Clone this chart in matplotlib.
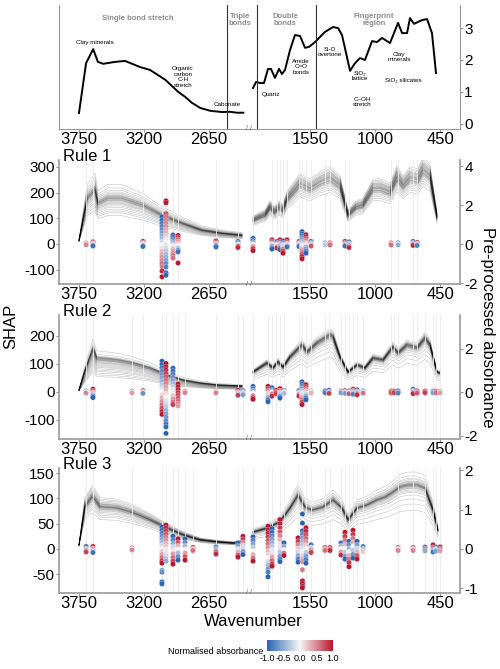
import numpy as np
import matplotlib
matplotlib.use("Agg")
import matplotlib.pyplot as plt
import matplotlib.transforms as mtransforms
from matplotlib.colors import LinearSegmentedColormap, Normalize
from matplotlib.cm import ScalarMappable

plt.rcParams['font.family'] = ['Liberation Sans', 'DejaVu Sans']
plt.rcParams['axes.unicode_minus'] = False

# ---------------- data ----------------
tick_wn = [3750, 3200, 2650, 1550, 1000, 450]
region_edges = [2500, 2000, 1500]

# mean spectrum (top panel)
top_wn_l = [3750, 3690, 3630, 3590, 3545, 3445, 3360, 3235, 3150, 3020, 2910, 2850,
            2795, 2725, 2640, 2540, 2475, 2415, 2360]
top_ab_l = [0.34, 1.9, 2.34, 1.94, 1.88, 1.94, 1.97, 1.78, 1.69, 1.38, 1.0, 0.84,
            0.66, 0.5, 0.41, 0.37, 0.38, 0.35, 0.35]
top_wn_r = [2032, 2007, 1973, 1939, 1905, 1880, 1846, 1812, 1787, 1761, 1719, 1677,
            1634, 1592, 1558, 1507, 1423, 1355, 1313, 1279, 1245, 1211, 1169, 1127,
            1085, 1025, 983, 941, 873, 805, 771, 729, 704, 670, 602, 560, 518, 484]
top_ab_r = [1.12, 1.31, 1.28, 1.28, 1.72, 1.72, 1.44, 1.72, 1.56, 1.69, 2.31, 2.78,
            2.75, 2.38, 2.41, 2.56, 2.88, 3.03, 3.0, 2.78, 2.22, 1.66, 1.9, 2.06,
            2.0, 2.59, 2.56, 2.69, 2.53, 3.16, 2.84, 2.84, 3.31, 3.13, 3.25, 3.28, 2.84, 1.59]

# Rule 1 spectra
r1_wn_l = [3750, 3680, 3615, 3590, 3505, 3390, 3210, 3050, 2880, 2710, 2540, 2370]
r1_ab_l = [0.2, 2.36, 2.8, 2.1, 2.36, 2.36, 2.0, 1.49, 1.08, 0.72, 0.56, 0.46]
r1_wn_r = [2032, 1973, 1930, 1888, 1850, 1810, 1780, 1745, 1634, 1550, 1460, 1380,
           1296, 1228, 1160, 1104, 1017, 958, 873, 814, 763, 704, 640, 594, 535, 475]
r1_ab_r = [1.23, 1.4, 1.5, 1.9, 1.65, 1.9, 1.75, 2.3, 3.1, 2.85, 3.2, 3.4,
           3.0, 1.5, 1.9, 2.0, 2.85, 2.87, 2.67, 3.43, 3.0, 3.4, 3.3, 3.8, 3.5, 1.4]
r1_fac_l = [0.62, 1.3, 0.72, 1.0, 0.8, 1.22, 0.86, 0.95, 0.9, 1.17, 0.94, 0.68, 0.96,
            1.05, 0.98, 0.99, 1.0, 0.76, 1.01, 1.02, 0.83, 1.04, 0.97, 1.06, 1.08,
            1.1, 0.88, 1.13, 0.92, 1.03]
r1_fac_r = [0.96, 0.82, 1.05, 0.88, 1.12, 0.92, 1.0, 0.94, 1.17, 0.78, 0.97, 1.02,
            0.98, 1.08, 0.85, 1.0, 1.01, 0.93, 1.14, 1.02, 1.03, 0.9, 1.04, 0.95,
            1.06, 1.07, 0.99, 1.09, 1.1, 0.96]

# Rule 2 spectra
r2_wn_l = [3750, 3700, 3630, 3600, 3430, 3293, 3150, 3005, 2870, 2725, 2580, 2370]
r2_ab_l = [0.1, 1.0, 2.05, 1.58, 1.49, 1.35, 1.12, 0.79, 0.56, 0.42, 0.33, 0.28]
r2_wn_r = [2032, 1914, 1863, 1820, 1778, 1719, 1617, 1575, 1490, 1380, 1355, 1296,
           1228, 1152, 1085, 1017, 932, 848, 805, 729, 644, 577, 535, 475, 450]
r2_ab_r = [0.93, 1.35, 1.12, 1.4, 1.16, 1.63, 2.19, 1.86, 2.28, 2.65, 2.56, 1.63,
           0.93, 1.26, 1.12, 1.58, 1.49, 2.09, 1.81, 2.19, 2.05, 2.51, 2.19, 0.93, 0.88]
r2_fac_l = [0.45, 1.2, 0.55, 0.98, 0.64, 1.1, 0.72, 0.93, 0.78, 1.05, 0.84, 0.5,
            0.88, 1.0, 0.92, 0.6, 0.94, 0.95, 0.68, 0.97, 0.75, 0.99, 1.0, 0.81,
            1.01, 1.02, 0.86, 1.03, 0.9, 0.96]
r2_fac_r = [1.0, 0.6, 0.97, 0.78, 1.02, 0.88, 0.92, 1.07, 0.94, 0.95, 0.7, 0.96,
            0.97, 1.1, 0.98, 0.84, 0.99, 0.99, 1.0, 0.9, 1.0, 1.01, 1.01, 0.93,
            1.02, 1.03, 1.04, 1.05, 0.96, 0.98]

# Rule 3 spectra
r3_wn_l = [3750, 3700, 3640, 3615, 3572, 3430, 3293, 3150, 3005, 2870, 2725, 2580,
           2445, 2370]
r3_ab_l = [0.1, 1.07, 1.32, 1.25, 1.07, 1.04, 0.92, 0.74, 0.53, 0.36, 0.23, 0.18,
           0.15, 0.18]
r3_wn_r = [2032, 1914, 1804, 1719, 1651, 1592, 1533, 1440, 1355, 1279, 1228, 1152,
           1068, 983, 915, 856, 788, 720, 644, 577, 509, 467]
r3_ab_r = [0.43, 0.53, 0.69, 1.04, 1.37, 1.07, 0.99, 1.07, 1.25, 1.04, 0.74, 1.04,
           1.12, 1.25, 1.32, 1.43, 1.58, 1.63, 1.63, 1.55, 0.99, 0.48]
r3_fac_l = [0.7, 1.22, 0.8, 1.0, 0.87, 1.15, 0.92, 0.98, 0.95, 1.1, 0.97, 0.76,
            0.99, 1.04, 1.0, 1.0, 1.01, 0.84, 1.02, 1.02, 0.9, 1.03, 0.96, 1.05,
            1.06, 1.07, 0.94, 1.08, 1.12, 1.18]
r3_fac_r = [0.98, 0.6, 1.01, 0.84, 1.03, 0.9, 0.94, 1.1, 0.96, 0.97, 0.7, 0.99,
            1.0, 1.14, 1.0, 0.88, 1.01, 1.02, 0.78, 1.02, 1.04, 0.92, 1.05, 0.95,
            1.06, 1.08, 0.99, 1.2, 1.0, 0.98]

# SHAP columns: wavenumber, SHAP values, normalised absorbance
r1_col_wn = [3690, 3632, 3209, 3048, 3014, 2955, 2912, 2591, 2405,
             2032, 1871, 1829, 1804, 1778, 1744, 1643, 1617, 1584, 1541,
             1423, 1381, 1254, 1220, 864, 805, 678, 644]
r1_col_shap = [
    [3, 0, -3], [8, 4, 0, -4, -8], [10, 5, 0, -5, -10],
    [105, 92, 80, 68, 56, 44, 32, 20, 8, -4, -16, -28, -40, -52, -64, -76, -88, -105, -128],
    [168, 160, 118, 105, 92, 80, 68, 56, 44, 32, 20, 8, -4, -16, -28, -40, -52, -64, -76, -90, -112, -122],
    [35, 27, 19, 11, 3, -5, -13, -21, -29, -37, -45, -55],
    [33, 25, 17, 9, 1, -7, -15, -23, -31, -74],
    [12, 6, 0, -6, -12], [10, 4, -2, -8, -14],
    [22, 14, 6, -2, -10, -18, -26], [16, 8, 0, -8, -16, -20], [10, 3, -4, -11, -16],
    [16, 8, 0, -8, -16, -22], [12, 4, -4, -12, -20, -28, -36], [16, 8, 0, -8, -12],
    [10, 3, -4, -10],
    [48, 40, 32, 24, 16, 8, 0, -8, -16, -24, -32, -40, -48, -58],
    [36, 28, 20, 12, 4, -4, -12, -20, -28, -36],
    [10, 4, -2, -8], [4, 0, -4], [4, 0, -4], [10, 4, -2, -8], [8, 2, -6, -14],
    [4, 0, -4], [4, 0, -4], [10, 4, -2, -6], [6, 2, -2, -6]]
r1_col_abs = [
    [0.7, 0.1, 0.5], [0.9, 0.5, 0.1, -0.5, -0.9], [0.9, 0.5, 0.0, -0.5, -0.9],
    [-1, -0.95, -0.85, -0.8, -0.7, -0.6, -0.5, -0.4, -0.2, 0.0, 0.1, 0.25, 0.35, 0.45, 0.5, 0.6, 0.55, 0.9, 1.0],
    [1, 1, 0.7, 0.6, 0.55, 0.5, 0.45, 0.35, 0.3, 0.2, 0.1, 0.0, -0.1, -0.2, -0.3, -0.4, -0.5, -0.6, -0.7, -0.8, -0.9, -1],
    [-1, -0.9, -0.8, -0.6, -0.4, -0.1, 0.1, 0.3, 0.4, 0.5, 0.55, 0.6],
    [1, 0.8, 0.6, 0.4, 0.2, 0, -0.3, -0.6, -0.9, 1],
    [0.9, 0.6, 0.2, -0.6, -0.9], [-0.9, -0.6, 0.0, 0.6, 0.9],
    [-1, -0.8, -0.5, 0, 0.4, 0.8, 1], [0.9, 0.6, 0.1, -0.5, -0.8, -1], [-0.9, -0.5, 0, 0.5, 0.9],
    [1, 0.6, 0.2, -0.4, -0.8, -1], [-1, -0.6, -0.2, 0.2, 0.5, 0.8, 1], [1, 0.6, 0.1, -0.5, -0.9],
    [0.8, 0.2, -0.4, -0.9],
    [-1, -0.95, -0.85, -0.7, -0.55, -0.4, -0.2, 0.0, 0.2, 0.4, 0.55, 0.7, 0.85, 1],
    [1, 0.9, 0.7, 0.5, 0.2, -0.1, -0.4, -0.6, -0.8, -1],
    [-0.9, -0.4, 0.2, 0.7], [-0.7, 0.0, -0.3], [0.8, 0.2, 0.6], [0.9, 0.5, -0.3, -0.9],
    [-0.9, -0.3, 0.4, 0.9], [0.7, 0.1, 0.6], [-0.8, 0.0, -0.5], [-0.9, -0.4, 0.4, 0.9],
    [0.9, 0.4, -0.3, -0.8]]

r2_col_wn = [3690, 3632, 3302, 3209, 3048, 3014, 2955, 2912, 2853, 2591, 2405, 2363,
             2032, 1905, 1871, 1838, 1804, 1770, 1643, 1617, 1584, 1541, 1423, 1389,
             1288, 1254, 1220, 1186, 1152, 1101, 864, 840, 805, 678, 644, 577, 509, 484, 450]
r2_col_shap = [
    [4, 0, -4], [10, 4, -2, -8, -14, -20], [3, 0, -3], [5, 0, -5],
    [110, 98, 86, 74, 62, 50, 38, 26, 14, 2, -10, -22, -34, -46, -58, -70, -80],
    [102, 90, 78, 66, 54, 42, 30, 18, 6, -6, -18, -30, -42, -54, -66, -78, -90, -102, -114, -125, -148],
    [85, 74, 63, 52, 41, 30, 19, 8, -3, -14, -25, -36, -45],
    [28, 18, 8, -2, -12, -22, -32, -42, -50],
    [3, 0, -3], [3, 0, -3], [6, 0, -6, -12], [5, 0, -5, -10],
    [20, 12, 4, -4, -12, -20, -26], [20, 12, 4, -4, -12, -20, -28, -35],
    [15, 7, 0, -7, -15], [6, 0, -6], [12, 5, -2, -9, -16, -22], [5, 0, -5],
    [5, -2, -9, -15], [36, 28, 20, 12, 4, -4, -12, -20, -28, -36, -45],
    [26, 18, 10, 2, -6, -14, -22, -28], [4, 0, -4], [4, 0, -3], [6, 0, -5],
    [3, 0, -3], [5, 0, -5], [4, -1, -6], [10, 4, -2, -8], [8, 2, -4, -10], [4, 0, -4],
    [3, 0, -3], [3, 0, -3], [4, 0, -4], [10, 4, -2, -6], [4, 0, -4], [3, 0, -3],
    [3, 0, -3], [3, 0, -3], [3, 0, -3]]
r2_col_abs = [
    [-0.6, 0.0, 0.5], [1, 0.7, 0.3, -0.3, -0.7, -1], [0.6, 0.0, 0.4], [0.8, 0.0, -0.7],
    [-1, -0.95, -0.85, -0.75, -0.65, -0.55, -0.45, -0.3, -0.15, 0.0, 0.15, 0.3, 0.45, 0.6, 0.75, 0.9, 1],
    [1, 0.95, 0.9, 0.8, 0.7, 0.6, 0.5, 0.4, 0.3, 0.15, 0.0, -0.1, -0.2, -0.3, -0.45, -0.55, -0.65, -0.75, -0.85, -0.95, -1],
    [-1, -0.9, -0.8, -0.7, -0.55, -0.4, -0.25, -0.1, 0.05, 0.2, 0.4, 0.6, 0.8],
    [1, 0.95, 0.9, 0.8, 0.75, 0.7, 0.6, 0.5, 0.4],
    [0.7, 0.1, 0.5], [0.4, 0.0, 0.5], [0.9, 0.3, -0.3, 0.8], [-0.8, -0.3, 0.2, -0.6],
    [-1, -0.8, -0.5, 0.0, 0.4, 0.8, 1], [1, 0.8, 0.5, 0.2, -0.2, -0.5, -0.8, -1],
    [-1, -0.6, 0.0, 0.5, 0.9], [0.9, 0.6, 0.8], [1, 0.6, 0.2, -0.3, -0.7, -1], [-0.7, 0.0, -0.4],
    [-0.8, -0.2, 0.5, 0.9], [-1, -0.9, -0.75, -0.55, -0.35, -0.1, 0.15, 0.35, 0.55, 0.75, 1],
    [1, 0.8, 0.5, 0.2, -0.2, -0.5, -0.8, -1], [-0.5, 0.0, 0.3], [-0.9, -0.6, -0.8], [-0.9, 0.2, 0.8],
    [-0.8, -0.2, -0.6], [0.8, 0.1, -0.6], [-0.7, 0.0, 0.7], [0.9, 0.4, -0.3, -0.8],
    [-0.9, -0.3, 0.4, 0.9], [-0.7, 0.0, 0.6],
    [0.8, 0.5, 0.7], [0.9, 0.6, 0.8], [-0.9, -0.5, -0.8], [-0.9, -0.3, 0.4, 0.9],
    [0.8, 0.3, 0.7], [0.9, 0.6, 0.8], [-0.8, -0.4, -0.6], [0.8, 0.4, 0.6], [-0.6, 0.0, 0.4]]

r3_col_wn = [3690, 3632, 3302, 3048, 3014, 2955, 2912, 2853, 2786, 2591, 2405, 2363,
             2032, 1905, 1871, 1804, 1770, 1651, 1614, 1584, 1541, 1423, 1381,
             1288, 1254, 1220, 1186, 1152, 1101, 805, 678, 577, 509, 484, 450]
r3_col_shap = [
    [5, 1, -3, -6], [5, 1, -3, -7], [2, 0, -2],
    [43, 37, 31, 25, 19, 13, 7, 1, -5, -11, -17, -23, -28, -42, -46, -65, -69],
    [47, 41, 35, 29, 23, 17, 11, 5, -1, -7, -13, -19, -24],
    [25, 18, 11, 4, -3, -10, -17, -24, -30],
    [20, 13, 6, -1, -8, -15, -22], [20, 13, 6, -1, -8, -15, -22], [3, 0, -3],
    [4, 0, -5, -10], [12, 6, 0, -6, -12, -16], [25, 19, 13, 7, 1, -5, -11],
    [24, 17, 10, 3, -4, -11, -18, -24],
    [45, 38, 31, 24, 17, 10, 3, -4, -11, -18, -25, -32, -39, -46, -55],
    [40, 33, 26, 19, 12, 5, -2, -9, -16, -23, -30, -34],
    [58, 50, 42, 34, 26, 18, 10, 2, -6, -14, -20, -25],
    [12, 5, -2, -8, -13],
    [22, 15, 8, 1, -6, -13, -20, -26],
    [69, 51, 36, 29, 22, 15, 8, 1, -6, -13, -20, -25, -41, -63, -68, -73, -77],
    [42, 35, 28, 21, 14, 7, 0, -7, -14, -21, -28],
    [8, 3, -2, -7], [3, 0, -3], [3, 0, -3],
    [12, 6, 0, -6, -12], [33, 25, 17, 9, 1, -7, -15, -20],
    [15, 8, 1, -6, -13, -20, -27, -35], [37, 29, 21, 13, 5, -3, -11, -18],
    [15, 8, 1, -6, -13, -20], [5, 0, -5],
    [3, 0, -3], [3, 0, -3], [4, 0, -4], [8, 3, -2, -6], [4, 0, -4], [4, 0, -4]]
r3_col_abs = [
    [-0.9, -0.3, 0.4, 0.8], [0.9, 0.4, -0.3, -0.9], [0.6, 0.0, 0.5],
    [-1, -0.9, -0.8, -0.7, -0.55, -0.4, -0.2, 0.0, 0.2, 0.4, 0.6, 0.8, 1, -0.6, -0.7, -0.9, -1],
    [1, 0.9, 0.8, 0.7, 0.55, 0.45, 0.3, 0.2, 0.05, -0.1, -0.2, -0.35, -0.5],
    [-1, -0.8, -0.5, -0.2, 0.1, 0.4, 0.6, 0.8, 1],
    [1, 0.7, 0.3, 0.0, -0.4, -0.7, -1], [-1, -0.7, -0.4, 0.0, 0.4, 0.7, 1], [0.8, 0.1, 0.6],
    [-0.8, -0.4, 0.6, 0.9], [-1, -0.6, -0.1, 0.3, 0.7, 1], [1, 0.8, 0.5, 0.2, -0.2, -0.6, -1],
    [-1, -0.8, -0.55, -0.3, 0.0, 0.3, 0.6, 1],
    [1, 0.95, 0.9, 0.8, 0.7, 0.6, 0.45, 0.3, 0.15, 0.0, -0.2, -0.4, -0.6, -0.8, -1],
    [-1, -0.9, -0.75, -0.6, -0.45, -0.3, -0.1, 0.1, 0.35, 0.6, 0.85, 1],
    [1, 0.9, 0.8, 0.65, 0.5, 0.3, 0.1, -0.1, -0.35, -0.6, -0.8, -1],
    [-1, -0.5, 0.0, 0.6, 1],
    [1, 0.8, 0.5, 0.2, -0.2, -0.5, -0.8, -1],
    [-1, -1, -0.9, -0.75, -0.6, -0.45, -0.3, -0.15, 0.0, 0.15, 0.3, 0.45, 0.55, 1, 1, 0.95, 1],
    [1, 0.9, 0.75, 0.6, 0.4, 0.2, 0.0, -0.3, -0.6, -0.8, -1],
    [-0.9, -0.2, 0.4, 0.8], [0.7, 0.3, 0.6], [0.8, 0.5, 0.9],
    [-0.9, -0.4, 0.0, 0.4, 0.9], [1, 0.8, 0.55, 0.3, 0.0, -0.3, -0.7, -1],
    [-1, -0.7, -0.4, 0.0, 0.3, 0.6, 0.85, 1], [1, 0.8, 0.55, 0.3, 0.0, -0.3, -0.7, -1],
    [-1, -0.6, -0.2, 0.3, 0.7, 1], [-0.8, -0.3, 0.2],
    [0.6, 0.0, 0.5], [0.7, 0.1, 0.5], [-0.8, 0.5, -0.5], [1, 0.6, -0.4, -0.9],
    [-0.8, -0.2, -0.6], [0.9, -0.5, 0.4]]

# ---------------- helpers ----------------
def pos(wn):
    # broken wavenumber axis: 2200-2030 region is cut out
    wn = np.asarray(wn, dtype=float)
    return np.where(wn >= 2200, 3750 - wn, 3504 - wn)

XLIM = (-169, 3223)
BREAK = 1438
SPINE = '#9a9a9a'
cmap = LinearSegmentedColormap.from_list('na', ['#2b63b3', '#f7f7f7', '#b8162d'])

fig = plt.figure(figsize=(5, 6.69), dpi=100)
L, W = 0.118, 0.802


def style_xaxis(ax):
    ax.set_xlim(XLIM)
    ax.set_xticks(pos(tick_wn))
    ax.set_xticklabels([str(t) for t in tick_wn], fontsize=12)
    ax.tick_params(axis='x', length=2, color=SPINE, pad=0.5)
    trans = mtransforms.blended_transform_factory(ax.transData, ax.transAxes)
    ax.text(BREAK, 0, '/ /', transform=trans, ha='center', va='center',
            fontsize=5, color='#666666', zorder=10)


# ---------------- top panel ----------------
ax0 = fig.add_axes([L, 1 - 129 / 669, W, 124 / 669])
ax0.plot(pos(top_wn_l), top_ab_l, color='black', lw=1.4)
ax0.plot(pos(top_wn_r), top_ab_r, color='black', lw=1.4)
for e in region_edges:
    ax0.axvline(pos(e), color='#333333', lw=0.8)
ax0.set_ylim(-0.16, 3.72)
ax0.yaxis.tick_right()
ax0.set_yticks([0, 1, 2, 3])
ax0.tick_params(axis='y', labelsize=11, length=2, color=SPINE, pad=1)
ax0.spines['top'].set_visible(False)
for s in ['left', 'right', 'bottom']:
    ax0.spines[s].set_color(SPINE)
style_xaxis(ax0)

grey = dict(color='#8c8c8c', fontsize=5.5, fontweight='bold', ha='center', va='center',
            transform=ax0.transAxes, linespacing=1.1)
ax0.text(0.197, 0.895, 'Single bond stretch', **grey)
ax0.text(0.451, 0.88, 'Triple\nbonds', **grey)
ax0.text(0.564, 0.88, 'Double\nbonds', **grey)
ax0.text(0.786, 0.88, 'Fingerprint\nregion', **grey)
small = dict(fontsize=4.5, ha='center', va='center', transform=ax0.transAxes,
             linespacing=1.2)
ax0.text(0.09, 0.694, 'Clay minerals', **small)
ax0.text(0.309, 0.419, 'Organic\ncarbon\nC-H\nstretch', **small)
ax0.text(0.419, 0.194, 'Cabonate', **small)
ax0.text(0.529, 0.282, 'Quartz', **small)
ax0.text(0.603, 0.5, 'Amide\nC=O\nbonds', **small)
ax0.text(0.676, 0.621, 'Si-O\novertone', **small)
ax0.text(0.751, 0.427, 'SiO\u2082\nlattice', **small)
ax0.text(0.756, 0.218, 'C\u2013OH\nstretch', **small)
ax0.text(0.848, 0.581, 'Clay\nminerals', **small)
ax0.text(0.858, 0.395, 'SiO\u2082 silicates', **small)

# ---------------- rule panels ----------------
panels = [
    dict(name='Rule 1', top=160, bot=284, ylim=(-156, 327), yt=[-100, 0, 100, 200, 300],
         ylim2=(-2.03, 4.31), yt2=[-2, 0, 2, 4],
         wl=r1_wn_l, al=r1_ab_l, wr=r1_wn_r, ar=r1_ab_r, fl=r1_fac_l, fr=r1_fac_r,
         cw=r1_col_wn, cs=r1_col_shap, ca=r1_col_abs),
    dict(name='Rule 2', top=315, bot=439, ylim=(-168, 275), yt=[-100, 0, 100, 200],
         ylim2=(-2.16, 3.54), yt2=[-2, 0, 2],
         wl=r2_wn_l, al=r2_ab_l, wr=r2_wn_r, ar=r2_ab_r, fl=r2_fac_l, fr=r2_fac_r,
         cw=r2_col_wn, cs=r2_col_shap, ca=r2_col_abs),
    dict(name='Rule 3', top=468, bot=593, ylim=(-87, 160), yt=[-50, 0, 50, 100, 150],
         ylim2=(-1.12, 2.06), yt2=[-1, 0, 1, 2],
         wl=r3_wn_l, al=r3_ab_l, wr=r3_wn_r, ar=r3_ab_r, fl=r3_fac_l, fr=r3_fac_r,
         cw=r3_col_wn, cs=r3_col_shap, ca=r3_col_abs),
]

for p in panels:
    ax = fig.add_axes([L, 1 - p['bot'] / 669, W, (p['bot'] - p['top']) / 669])
    ax2 = ax.twinx()
    # spectra on the right axis
    for f in p['fl']:
        ax2.plot(pos(p['wl']), np.array(p['al']) * f, color='black', lw=0.45, alpha=0.22)
    for f in p['fr']:
        ax2.plot(pos(p['wr']), np.array(p['ar']) * f, color='black', lw=0.45, alpha=0.22)
    ax2.set_ylim(p['ylim2'])
    ax2.set_yticks(p['yt2'])
    ax2.tick_params(axis='y', labelsize=11, length=2, color=SPINE, pad=1)
    for s in ['top', 'left', 'bottom']:
        ax2.spines[s].set_visible(False)
    ax2.spines['right'].set_color(SPINE)
    ax2.spines['right'].set_linewidth(1.2)

    # SHAP columns on the left axis
    for wn in p['cw']:
        ax.axvline(pos(wn), color='#ebebeb', lw=0.6, zorder=0)
    for wn, sv, av in zip(p['cw'], p['cs'], p['ca']):
        ax.scatter(np.full(len(sv), pos(wn)), sv, c=av, cmap=cmap, vmin=-1, vmax=1,
                   s=14, edgecolors='white', linewidths=0.15, zorder=3)
    ax.set_ylim(p['ylim'])
    ax.set_yticks(p['yt'])
    ax.tick_params(axis='y', labelsize=11, length=2, color=SPINE, pad=1)
    ax.spines['top'].set_visible(False)
    ax.spines['right'].set_visible(False)
    for s in ['left', 'bottom']:
        ax.spines[s].set_color(SPINE)
        ax.spines[s].set_linewidth(1.2)
    ax.set_zorder(ax2.get_zorder() + 1)
    ax.patch.set_visible(False)
    style_xaxis(ax)
    ax.annotate(p['name'], xy=(0.01, 1.0), xycoords='axes fraction', xytext=(0, 2.5),
                textcoords='offset points', fontsize=12, va='center', ha='left')

fig.text(0.022, 0.5127, 'SHAP', rotation=90, fontsize=12, ha='center', va='center')
fig.text(0.976, 0.5105, 'Pre-processed absorbance', rotation=270, fontsize=12,
         ha='center', va='center')
fig.text(0.506, 0.0703, 'Wavenumber', fontsize=12, ha='center', va='center')

# colourbar
cax = fig.add_axes([0.534, 1 - 651 / 669, 0.132, 11 / 669])
cb = fig.colorbar(ScalarMappable(norm=Normalize(-1, 1), cmap=cmap), cax=cax,
                  orientation='horizontal', ticks=[-1, -0.5, 0, 0.5, 1])
cb.ax.set_xticklabels(['-1.0', '-0.5', '0.0', '0.5', '1.0'])
cb.ax.tick_params(labelsize=6.5, length=0, pad=2.5)
cb.outline.set_visible(False)
fig.text(0.527, 1 - 652 / 669, 'Normalised absorbance', fontsize=6.5, ha='right',
         va='center')

fig.savefig('out.png', dpi=100)
